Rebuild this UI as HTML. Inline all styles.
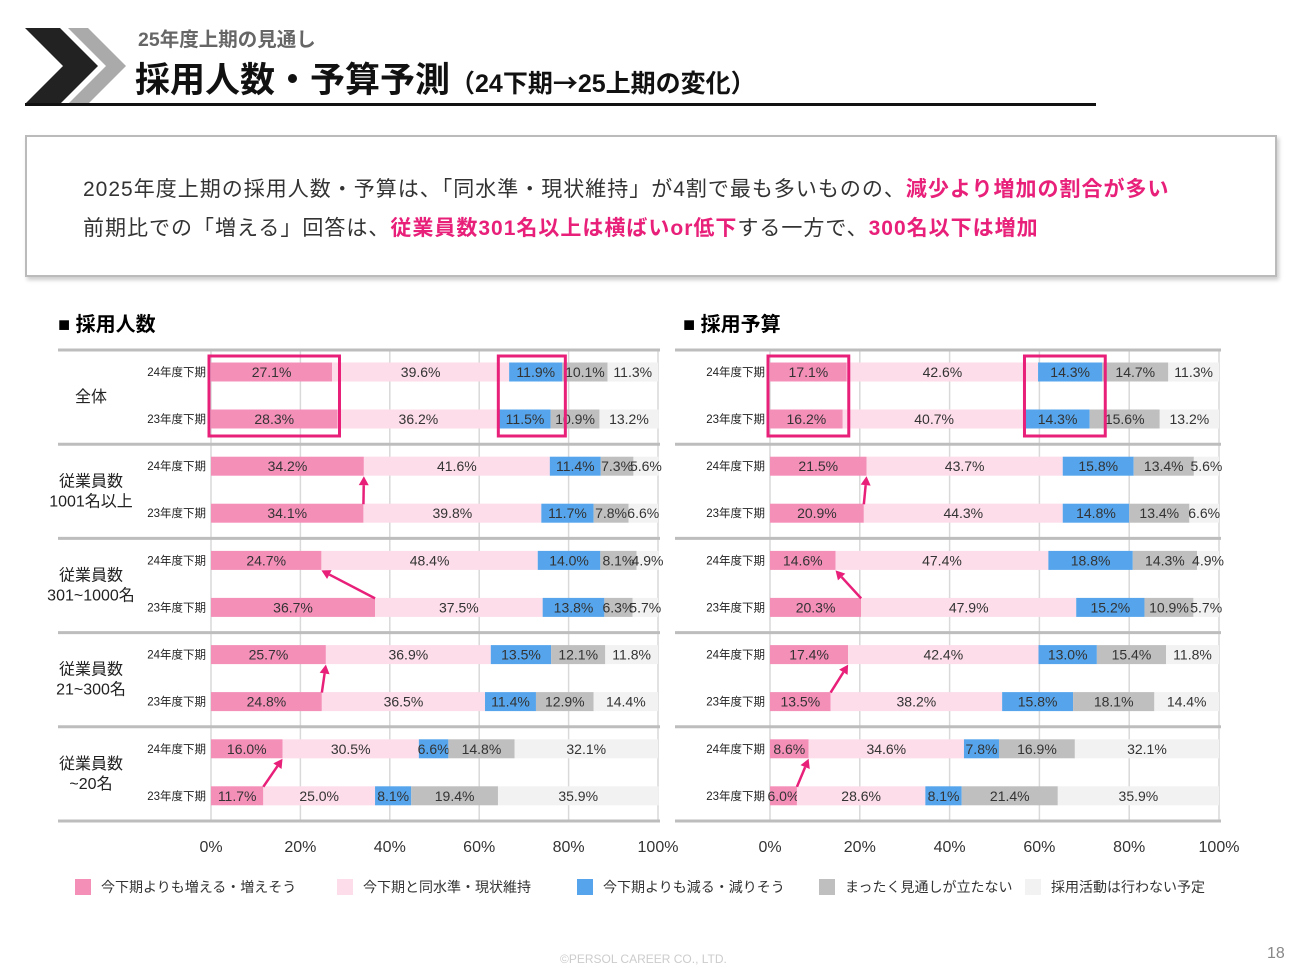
<!DOCTYPE html>
<html><head><meta charset="utf-8">
<style>
body{margin:0;width:1297px;height:969px;background:#fff;overflow:hidden;font-family:"Liberation Sans","Noto Sans CJK JP",sans-serif;position:relative}
.abs{position:absolute;white-space:nowrap}
</style></head><body>
<svg class="abs" style="left:0;top:0" width="1297" height="969">
<polygon points="25,28 60,28 98,66 60,104 25,104 63,66" fill="#222"/>
<polygon points="68,28 88,28 126,66 88,104 68,104 106,66" fill="#aaa"/>
<rect x="25" y="103" width="1071" height="3" fill="#111"/>
</svg>
<div class="abs" style="left:138px;top:23px;font-size:19.5px;color:#666;font-weight:bold">25年度上期の見通し</div>
<div class="abs" style="left:135px;top:52px;font-size:35px;font-weight:bold;color:#111">採用人数・予算予測<span style="font-size:25px">（24下期<span style="font-family:'Noto Sans CJK JP',sans-serif">→</span>25上期の変化）</span></div>
<div class="abs" style="left:25px;top:135px;width:1248px;height:138px;border:2px solid #bbb;box-shadow:2px 3px 4px #ccc;font-size:21px;letter-spacing:1px;color:#333">
<div style="position:absolute;left:56px;top:36px">2025年度上期の採用人数・予算は、「同水準・現状維持」が4割で最も多いものの、<b style="color:#e8207a">減少より増加の割合が多い</b></div>
<div style="position:absolute;left:56px;top:75px">前期比での「増える」回答は、<b style="color:#e8207a">従業員数301名以上は横ばいor低下</b>する一方で、<b style="color:#e8207a">300名以下は増加</b></div>
</div>
<div class="abs" style="left:58px;top:308px;font-size:20px;font-weight:bold">■ 採用人数</div>
<div class="abs" style="left:683px;top:308px;font-size:20px;font-weight:bold">■ 採用予算</div>
<svg id="chart" class="abs" style="left:0;top:0" width="1297" height="969"></svg>
<div class="abs" style="left:560px;top:952px;font-size:12px;color:#ccc">©PERSOL CAREER CO., LTD.</div>
<div class="abs" style="left:1267px;top:945px;font-size:16px;color:#888">18</div>
<script>
const categories=["全体","従業員数\n1001名以上","従業員数\n301~1000名","従業員数\n21~300名","従業員数\n~20名"];
const periods=["24年度下期","23年度下期"];
const seriesNames=["今下期よりも増える・増えそう","今下期と同水準・現状維持","今下期よりも減る・減りそう","まったく見通しが立たない","採用活動は行わない予定"];
const ticks=["0%","20%","40%","60%","80%","100%"];
const headcount=[
[[27.1,39.6,11.9,10.1,11.3],[28.3,36.2,11.5,10.9,13.2]],
[[34.2,41.6,11.4,7.3,5.6],[34.1,39.8,11.7,7.8,6.6]],
[[24.7,48.4,14.0,8.1,4.9],[36.7,37.5,13.8,6.3,5.7]],
[[25.7,36.9,13.5,12.1,11.8],[24.8,36.5,11.4,12.9,14.4]],
[[16.0,30.5,6.6,14.8,32.1],[11.7,25.0,8.1,19.4,35.9]]];
const budget=[
[[17.1,42.6,14.3,14.7,11.3],[16.2,40.7,14.3,15.6,13.2]],
[[21.5,43.7,15.8,13.4,5.6],[20.9,44.3,14.8,13.4,6.6]],
[[14.6,47.4,18.8,14.3,4.9],[20.3,47.9,15.2,10.9,5.7]],
[[17.4,42.4,13.0,15.4,11.8],[13.5,38.2,15.8,18.1,14.4]],
[[8.6,34.6,7.8,16.9,32.1],[6.0,28.6,8.1,21.4,35.9]]];
const colors=["#f48fb8","#fcdde9","#56a5ec","#bfbfbf","#f2f2f2"];
const svg=document.getElementById('chart');
const NS="http://www.w3.org/2000/svg";
function mk(t,a,p){const e=document.createElementNS(NS,t);for(const k in a)e.setAttribute(k,a[k]);(p||svg).appendChild(e);return e;}
const groupTop=350,groupH=94.2;
function rowY(g,p){return groupTop+g*groupH+22+p*47;}
function drawChart(data,x0,x1,lineX0,labelX,catX,name){
  const xs=v=>x0+(x1-x0)*v/100;
  const g=mk('g',{});
  
  
  ticks.forEach((t,i)=>{
    const x=xs(i*20);
    const l=mk('line',{x1:x,x2:x,y1:groupTop,y2:groupTop+5*groupH,stroke:'#d9d9d9','stroke-width':1.5},g);
    
    
    const tx=mk('text',{x:x,y:852,'font-size':16,'text-anchor':'middle',fill:'#333'},g);
    tx.textContent=t;
    
    
  });
  for(let k=0;k<=5;k++){
    const y=groupTop+k*groupH;
    const l=mk('line',{x1:lineX0,x2:x1+2,y1:y,y2:y,stroke:'#bdbdbd','stroke-width':3},g);
    
    
  }
  data.forEach((grp,gi)=>{
    const lines=categories[gi].split("\n");
    const cy=groupTop+gi*groupH+groupH/2+5;
    lines.forEach((s,li)=>{
      const t=mk('text',{x:catX,y:cy+(li-(lines.length-1)/2)*20,'font-size':16,'text-anchor':'middle',fill:'#222'},g);
      t.textContent=s;
      
      
    });
    grp.forEach((vals,pi)=>{
      const y=rowY(gi,pi);
      const pl=mk('text',{x:labelX,y:y+4,'font-size':11.5,'text-anchor':'end',fill:'#222'},g);
      pl.textContent=periods[pi];
      
      
      let acc=0;
      vals.forEach((v,si)=>{
        const r=mk('rect',{x:xs(acc),y:y-9.5,width:Math.max(0,xs(acc+v)-xs(acc)),height:19,fill:colors[si]},g);
        
        
        const t=mk('text',{x:(xs(acc)+xs(acc+v))/2,y:y+5,'font-size':14,'text-anchor':'middle',fill:'#333'},g);
        t.textContent=v.toFixed(1)+'%';
        
        
        acc+=v;
      });
    });
    if(gi>0){
      const xa=xs(grp[1][0]),xb=xs(grp[0][0]);
      const ya=rowY(gi,1)-9,yb=rowY(gi,0)+10;
      const ang=Math.atan2(yb-ya,xb-xa);
      const ex=xb-9*Math.cos(ang),ey=yb-9*Math.sin(ang);
      const l=mk('line',{x1:xa,y1:ya,x2:ex,y2:ey,stroke:'#e8207a','stroke-width':2.5},g);
      
      
      const px=-Math.sin(ang)*5,py=Math.cos(ang)*5;
      const h=mk('polygon',{points:`${xb},${yb} ${ex+px},${ey+py} ${ex-px},${ey-py}`,fill:'#e8207a'},g);
      
      
    }
  });
  const tot=data[0];
  const incMax=Math.max(tot[0][0],tot[1][0]);
  const b1=mk('rect',{x:x0-2,y:356,width:xs(incMax)-x0+4,height:80,fill:'none',stroke:'#e8207a','stroke-width':3},g);
  
  
  const ds=Math.min(xs(tot[0][0]+tot[0][1]),xs(tot[1][0]+tot[1][1]));
  const de=Math.max(xs(tot[0][0]+tot[0][1]+tot[0][2]),xs(tot[1][0]+tot[1][1]+tot[1][2]));
  const b2=mk('rect',{x:ds-1,y:356,width:de-ds+4,height:80,fill:'none',stroke:'#e8207a','stroke-width':3},g);
  
  
}
drawChart(headcount,211,658,58,206,91,'headcount-chart');
drawChart(budget,770,1219,675,765,-100,'budget-chart');
const legX=[75,337,577,819,1025];
seriesNames.forEach((n,i)=>{
  const r=mk('rect',{x:legX[i],y:879,width:16,height:16,fill:colors[i]});
  
  
  const t=mk('text',{x:legX[i]+26,y:892,'font-size':14,fill:'#333'});
  t.textContent=n;
  
  
});
</script>
</body></html>
